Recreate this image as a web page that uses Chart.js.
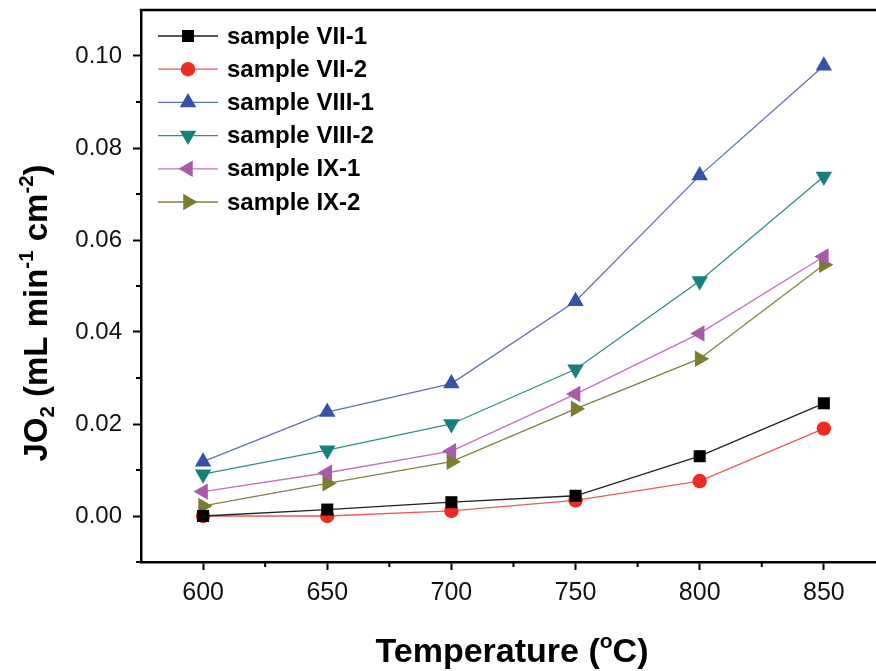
<!DOCTYPE html>
<html>
<head>
<meta charset="utf-8">
<script src="https://cdn.jsdelivr.net/npm/chart.js@4/dist/chart.umd.min.js"></script>
<style>
  html, body { margin: 0; padding: 0; background: #fff; overflow: hidden; }
  #wrap { width: 876px; height: 671px; }
</style>
</head>
<body>
<div id="wrap"><canvas id="jo2Chart" width="876" height="671"></canvas></div>
<script>
// temperatures (°C)
const temps = [600, 650, 700, 750, 800, 850];

// JO2 values (mL min-1 cm-2)
const vii1  = [0.0000, 0.0014, 0.0030, 0.0044, 0.0130, 0.0245];
const vii2  = [0.0000, 0.0000, 0.0011, 0.0034, 0.0076, 0.0190];
const viii1 = [0.0118, 0.0226, 0.0288, 0.0467, 0.0740, 0.0979];
const viii2 = [0.0091, 0.0143, 0.0200, 0.0319, 0.0511, 0.0738];
const ix1   = [0.0053, 0.0094, 0.0141, 0.0265, 0.0397, 0.0564];
const ix2   = [0.0022, 0.0071, 0.0118, 0.0233, 0.0342, 0.0546];

const seriesNames = ['sample VII-1', 'sample VII-2', 'sample VIII-1', 'sample VIII-2', 'sample IX-1', 'sample IX-2'];

// ticks
const xTicks = [600, 650, 700, 750, 800, 850];
const xMinor = [625, 675, 725, 775, 825];
const yTicks = [0.00, 0.02, 0.04, 0.06, 0.08, 0.10];
const yMinor = [-0.01, 0.01, 0.03, 0.05, 0.07, 0.09];

const FONT = '"Liberation Sans", Arial, Helvetica, sans-serif';

function pts(vals) {
    return temps.map((t, i) => ({ x: t, y: vals[i] }));
}

function ds(label, vals, fill, line, style, rot, r) {
    return {
        label: label,
        data: pts(vals),
        borderColor: line,
        borderWidth: 1.3,
        backgroundColor: fill,
        pointBackgroundColor: fill,
        pointBorderColor: fill,
        pointBorderWidth: 0,
        pointStyle: style,
        pointRotation: rot,
        pointRadius: r,
        pointHoverRadius: r,
        tension: 0
    };
}

const datasets = [
    ds(seriesNames[0], vii1, '#000000', '#222222', 'rect', 0, 8.5),
    ds(seriesNames[1], vii2, '#ee2b25', '#f05a55', 'circle', 0, 7.2),
    ds(seriesNames[2], viii1, '#3552a6', '#5b6fc3', 'triangle', 0, 9.5),
    ds(seriesNames[3], viii2, '#178079', '#2e8e89', 'triangle', 180, 9.5),
    ds(seriesNames[4], ix1, '#a95aa8', '#c071c0', 'triangle', -90, 9.5),
    ds(seriesNames[5], ix2, '#7a7c31', '#7f8240', 'triangle', 90, 9.5)
];

// draws text pieces with sub/superscripts
function richText(ctx, parts, x, y, size) {
    let cx = x;
    parts.forEach(p => {
        const s = p.mode ? size * 0.62 : size;
        ctx.font = 'bold ' + s + 'px ' + FONT;
        let dy = 0;
        if (p.mode === 'sup') dy = -size * 0.42;
        if (p.mode === 'sub') dy = size * 0.2;
        ctx.fillText(p.t, cx, y + dy);
        cx += ctx.measureText(p.t).width;
    });
    return cx - x;
}

function richWidth(ctx, parts, size) {
    let w = 0;
    parts.forEach(p => {
        const s = p.mode ? size * 0.62 : size;
        ctx.font = 'bold ' + s + 'px ' + FONT;
        w += ctx.measureText(p.t).width;
    });
    return w;
}

function noPad(axis) {
    axis.paddingTop = 0;
    axis.paddingBottom = 0;
    axis.paddingLeft = 0;
    axis.paddingRight = 0;
}

const decorPlugin = {
    id: 'decor',
    afterDraw(chart) {
        const ctx = chart.ctx;
        const area = chart.chartArea;
        const xs = chart.scales.x, ys = chart.scales.y;
        ctx.save();

        // top frame line
        ctx.strokeStyle = '#000';
        ctx.lineWidth = 2.5;
        ctx.beginPath();
        ctx.moveTo(area.left - 1.25, area.top);
        ctx.lineTo(chart.width, area.top);
        ctx.stroke();

        // minor ticks
        ctx.lineWidth = 2;
        ctx.beginPath();
        xMinor.forEach(v => {
            const px = xs.getPixelForValue(v);
            ctx.moveTo(px, area.bottom);
            ctx.lineTo(px, area.bottom + 5);
        });
        yMinor.forEach(v => {
            const py = ys.getPixelForValue(v);
            ctx.moveTo(area.left, py);
            ctx.lineTo(area.left - 5, py);
        });
        ctx.stroke();

        // legend
        const lx0 = 158, lx1 = 218, mx = 188, tx = 227, ly0 = 36, step = 33.2;
        chart.data.datasets.forEach((d, i) => {
            const y = ly0 + i * step;
            ctx.strokeStyle = d.borderColor;
            ctx.lineWidth = 1.3;
            ctx.beginPath();
            ctx.moveTo(lx0, y);
            ctx.lineTo(lx1, y);
            ctx.stroke();
            ctx.fillStyle = d.pointBackgroundColor;
            ctx.strokeStyle = d.pointBackgroundColor;
            Chart.helpers.drawPoint(ctx, {
                pointStyle: d.pointStyle,
                rotation: d.pointRotation,
                radius: d.pointRadius,
                borderWidth: 0
            }, mx, y);
            ctx.fillStyle = '#000';
            ctx.font = 'bold 24px ' + FONT;
            ctx.textBaseline = 'middle';
            ctx.textAlign = 'left';
            ctx.fillText(d.label, tx, y + 1);
        });

        // axis titles
        ctx.fillStyle = '#000';
        ctx.textBaseline = 'alphabetic';
        ctx.textAlign = 'left';
        const xt = [{ t: 'Temperature (' }, { t: 'o', mode: 'sup' }, { t: 'C)' }];
        const xw = richWidth(ctx, xt, 34);
        richText(ctx, xt, 512 - xw / 2, 662, 34);

        const yt = [{ t: 'JO' }, { t: '2', mode: 'sub' }, { t: ' (mL min' }, { t: '-1', mode: 'sup' },
                    { t: ' cm' }, { t: '-2', mode: 'sup' }, { t: ')' }];
        const yw = richWidth(ctx, yt, 33);
        ctx.translate(47, 313);
        ctx.rotate(-Math.PI / 2);
        richText(ctx, yt, -yw / 2, 0, 33);

        ctx.restore();
    }
};

new Chart(document.getElementById('jo2Chart'), {
    type: 'line',
    data: { datasets: datasets },
    plugins: [decorPlugin],
    options: {
        responsive: false,
        animation: false,
        layout: { autoPadding: false, padding: { top: 10, right: 0, left: 0, bottom: 0 } },
        plugins: {
            legend: { display: false },
            tooltip: { enabled: false }
        },
        scales: {
            x: {
                type: 'linear',
                min: 575,
                max: 871,
                afterBuildTicks: axis => { axis.ticks = xTicks.map(v => ({ value: v })); },
                afterFit: axis => { axis.height = 109; noPad(axis); },
                border: { display: true, color: '#000', width: 2.5 },
                grid: { drawOnChartArea: false, drawTicks: true, tickLength: 8, tickWidth: 2, color: '#000' },
                ticks: {
                    color: '#111',
                    font: { family: FONT, size: 25 },
                    padding: 8,
                    maxRotation: 0
                }
            },
            y: {
                type: 'linear',
                min: -0.01,
                max: 0.11,
                afterBuildTicks: axis => { axis.ticks = yTicks.map(v => ({ value: v })); },
                afterFit: axis => { axis.width = 141; noPad(axis); },
                border: { display: true, color: '#000', width: 2.5 },
                grid: { drawOnChartArea: false, drawTicks: true, tickLength: 8, tickWidth: 2, color: '#000' },
                ticks: {
                    color: '#111',
                    font: { family: FONT, size: 24 },
                    padding: 11,
                    callback: v => v.toFixed(2)
                }
            }
        }
    }
});
</script>
</body>
</html>
